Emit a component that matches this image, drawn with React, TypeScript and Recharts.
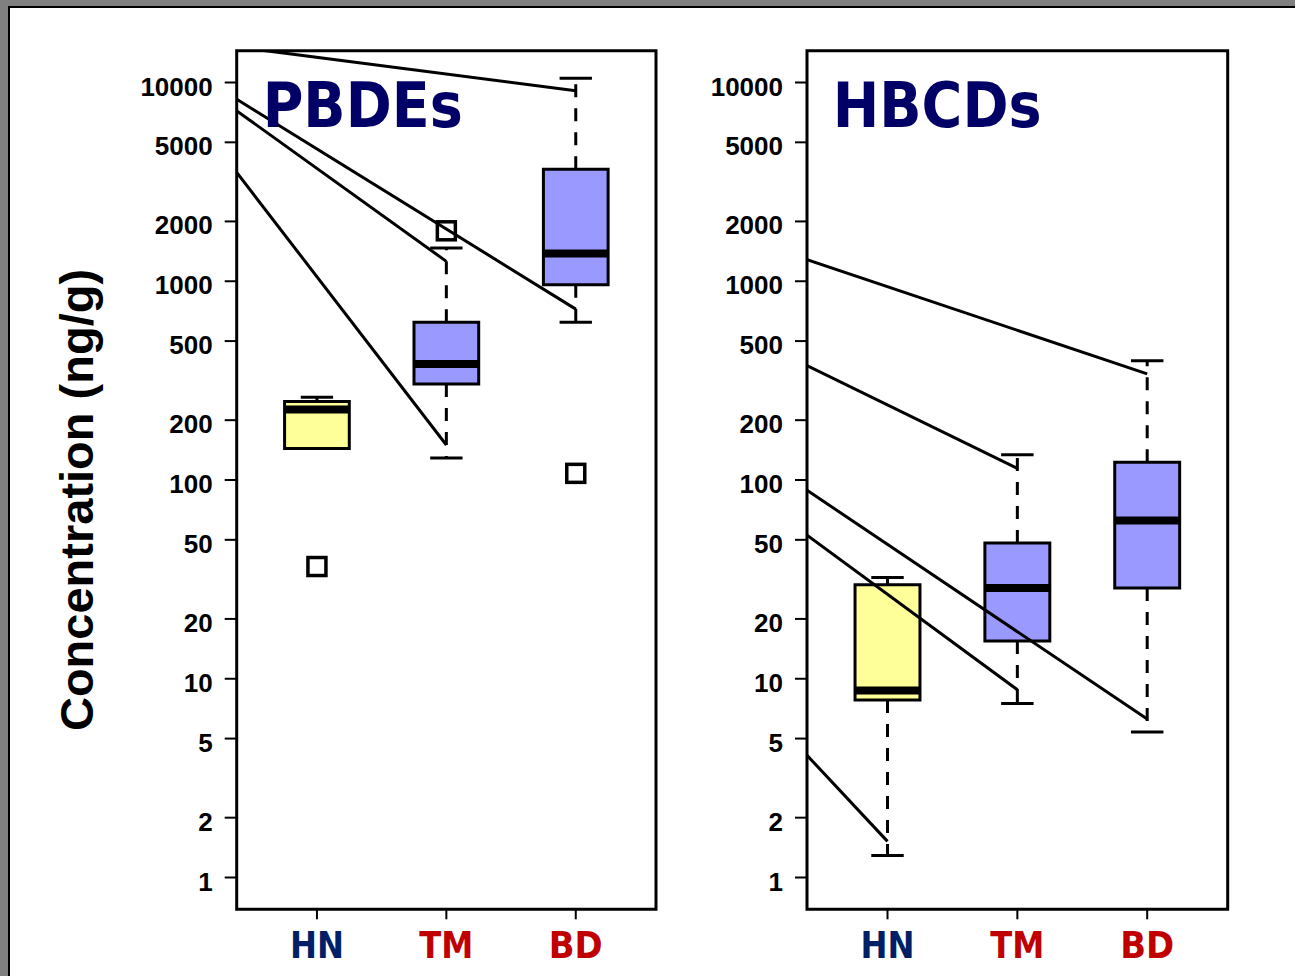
import React from 'react';
import {
  ComposedChart,
  XAxis,
  YAxis,
  Scatter,
  ReferenceArea,
  ReferenceLine,
} from 'recharts';

// ---------- data ----------
const categories = ['HN', 'TM', 'BD'];
const categoryPositions = [1, 2, 3];
const yTicks = [1, 2, 5, 10, 20, 50, 100, 200, 500, 1000, 2000, 5000, 10000];

// PBDEs box statistics (ng/g)
const pbdeLowerWhisker = [144, 129, 621];
const pbdeQ1 = [144, 304, 959];
const pbdeMedian = [226, 383, 1380];
const pbdeQ3 = [248, 621, 3664];
const pbdeUpperWhisker = [261, 1468, 10510];
const pbdeOutliers = [
  { x: 1, y: 36.7 },
  { x: 2, y: 1794 },
  { x: 3, y: 108 },
];
// connector lines: value at the left edge -> (category position, value)
const pbdeLineStart = [15100, 8240, 7200, 3527];
const pbdeLineEndCat = [3, 3, 2, 2];
const pbdeLineEnd = [9078, 724, 1259, 150];

// HBCDs box statistics (ng/g)
const hbcdLowerWhisker = [1.29, 7.51, 5.39];
const hbcdQ1 = [7.81, 15.5, 28.6];
const hbcdMedian = [8.72, 28.6, 62.5];
const hbcdQ3 = [29.7, 48.2, 123];
const hbcdUpperWhisker = [32.3, 134, 398];
const hbcdOutliers: { x: number; y: number }[] = [];
const hbcdLineStart = [1284, 376, 88.8, 52.8, 4.12];
const hbcdLineEndCat = [3, 2, 3, 2, 1];
const hbcdLineEnd = [342, 114.5, 6.28, 8.81, 1.52];

// ---------- layout/style ----------
const X_DOMAIN: [number, number] = [0.38, 3.62];
const Y_DOMAIN: [number, number] = [Math.pow(10, -0.16), Math.pow(10, 4.16)];
const BOX_HALF = 0.25;
const CAP_HALF = 0.125;
const catColors = ['#001f66', '#c00000', '#c00000'];
const boxColors = ['#ffff99', '#9999ff', '#9999ff'];
const NUM_FONT = '"Liberation Sans", Arial, sans-serif';
const TITLE_FONT = '"DejaVu Sans", Verdana, sans-serif';

const YTick = (props: any) => {
  const { x, y, payload } = props;
  return (
    <text
      x={x}
      y={y + 13}
      textAnchor="end"
      fontFamily={NUM_FONT}
      fontWeight="bold"
      fontSize={26}
      fill="#000"
    >
      {payload.value}
    </text>
  );
};

const XTick = (props: any) => {
  const { x, y, payload } = props;
  const i = categoryPositions.indexOf(payload.value);
  const label = categories[i] ?? '';
  return (
    <text
      x={x}
      y={y + 39}
      textAnchor="middle"
      fontFamily={TITLE_FONT}
      fontWeight="bold"
      fontSize={37}
      fill={catColors[i] ?? '#000'}
      textLength={54}
      lengthAdjust="spacingAndGlyphs"
    >
      {label}
    </text>
  );
};

const OutlierShape = (props: any) => {
  const { cx, cy } = props;
  if (cx == null || cy == null) return null;
  return (
    <rect
      x={cx - 9}
      y={cy - 9}
      width={18}
      height={18}
      fill="none"
      stroke="#000"
      strokeWidth={3.5}
    />
  );
};

type PanelProps = {
  left: number;
  yAxisWidth: number;
  rightMargin: number;
  lower: number[];
  q1: number[];
  median: number[];
  q3: number[];
  upper: number[];
  outliers: { x: number; y: number }[];
  lineStart: number[];
  lineEndCat: number[];
  lineEnd: number[];
};

const Panel = (p: PanelProps) => {
  const W = 680;
  const H = 976;
  return (
    <div style={{ position: 'absolute', left: p.left, top: 0, width: W, height: H }}>
      <ComposedChart
        width={W}
        height={H}
        data={p.outliers}
        margin={{ top: 50.7, left: 0, right: p.rightMargin, bottom: 6.7 }}
      >
        <XAxis
          type="number"
          dataKey="x"
          domain={X_DOMAIN}
          allowDataOverflow
          ticks={categoryPositions}
          tick={<XTick />}
          tickSize={10}
          tickMargin={0}
          height={60}
          axisLine={false}
          tickLine={{ stroke: '#000', strokeWidth: 2 }}
        />
        <YAxis
          type="number"
          dataKey="y"
          scale="log"
          domain={Y_DOMAIN}
          allowDataOverflow
          ticks={yTicks}
          tick={<YTick />}
          tickSize={12}
          tickMargin={12}
          width={p.yAxisWidth}
          axisLine={false}
          tickLine={{ stroke: '#000', strokeWidth: 2 }}
          interval={0}
        />
        {/* whiskers (dashed) */}
        {categoryPositions.map((c, i) =>
          p.upper[i] > p.q3[i] ? (
            <ReferenceLine
              key={`uw${i}`}
              segment={[
                { x: c, y: p.q3[i] },
                { x: c, y: p.upper[i] },
              ]}
              stroke="#000"
              strokeWidth={3}
              strokeDasharray="13 11"
              ifOverflow="visible"
            />
          ) : null
        )}
        {categoryPositions.map((c, i) =>
          p.lower[i] < p.q1[i] ? (
            <ReferenceLine
              key={`lw${i}`}
              segment={[
                { x: c, y: p.q1[i] },
                { x: c, y: p.lower[i] },
              ]}
              stroke="#000"
              strokeWidth={3}
              strokeDasharray="13 11"
              ifOverflow="visible"
            />
          ) : null
        )}
        {/* caps */}
        {categoryPositions.map((c, i) => (
          <ReferenceLine
            key={`uc${i}`}
            segment={[
              { x: c - CAP_HALF, y: p.upper[i] },
              { x: c + CAP_HALF, y: p.upper[i] },
            ]}
            stroke="#000"
            strokeWidth={3}
            ifOverflow="visible"
          />
        ))}
        {categoryPositions.map((c, i) => (
          <ReferenceLine
            key={`lc${i}`}
            segment={[
              { x: c - CAP_HALF, y: p.lower[i] },
              { x: c + CAP_HALF, y: p.lower[i] },
            ]}
            stroke="#000"
            strokeWidth={3}
            ifOverflow="visible"
          />
        ))}
        {/* boxes */}
        {categoryPositions.map((c, i) => (
          <ReferenceArea
            key={`box${i}`}
            x1={c - BOX_HALF}
            x2={c + BOX_HALF}
            y1={p.q1[i]}
            y2={p.q3[i]}
            fill={boxColors[i]}
            fillOpacity={1}
            stroke="#000"
            strokeWidth={3}
            ifOverflow="visible"
          />
        ))}
        {/* medians */}
        {categoryPositions.map((c, i) => (
          <ReferenceLine
            key={`med${i}`}
            segment={[
              { x: c - BOX_HALF, y: p.median[i] },
              { x: c + BOX_HALF, y: p.median[i] },
            ]}
            stroke="#000"
            strokeWidth={8}
            ifOverflow="visible"
          />
        ))}
        {/* connector lines */}
        {p.lineStart.map((v, i) => (
          <ReferenceLine
            key={`ln${i}`}
            segment={[
              { x: X_DOMAIN[0], y: v },
              { x: p.lineEndCat[i], y: p.lineEnd[i] },
            ]}
            stroke="#000"
            strokeWidth={3}
            ifOverflow="hidden"
          />
        ))}
        <Scatter
          data={p.outliers}
          dataKey="y"
          shape={<OutlierShape />}
          isAnimationActive={false}
        />
        {/* plot frame */}
        <ReferenceArea
          x1={X_DOMAIN[0]}
          x2={X_DOMAIN[1]}
          y1={Y_DOMAIN[0]}
          y2={Y_DOMAIN[1]}
          fill="none"
          stroke="#000"
          strokeWidth={3}
          ifOverflow="visible"
        />
      </ComposedChart>
    </div>
  );
};

export default function App() {
  return (
    <div
      style={{
        position: 'absolute',
        left: 0,
        top: 0,
        width: 1295,
        height: 976,
        background: '#fff',
        overflow: 'hidden',
      }}
    >
      <Panel
        left={0}
        yAxisWidth={236.7}
        rightMargin={24}
        lower={pbdeLowerWhisker}
        q1={pbdeQ1}
        median={pbdeMedian}
        q3={pbdeQ3}
        upper={pbdeUpperWhisker}
        outliers={pbdeOutliers}
        lineStart={pbdeLineStart}
        lineEndCat={pbdeLineEndCat}
        lineEnd={pbdeLineEnd}
      />
      <Panel
        left={570}
        yAxisWidth={237}
        rightMargin={22.3}
        lower={hbcdLowerWhisker}
        q1={hbcdQ1}
        median={hbcdMedian}
        q3={hbcdQ3}
        upper={hbcdUpperWhisker}
        outliers={hbcdOutliers}
        lineStart={hbcdLineStart}
        lineEndCat={hbcdLineEndCat}
        lineEnd={hbcdLineEnd}
      />
      <svg
        width={1295}
        height={976}
        style={{ position: 'absolute', left: 0, top: 0, pointerEvents: 'none' }}
      >
        <text
          x={262.7}
          y={126.7}
          fontFamily={TITLE_FONT}
          fontWeight="bold"
          fontSize={62}
          fill="#000066"
          textLength={200}
          lengthAdjust="spacingAndGlyphs"
        >
          PBDEs
        </text>
        <text
          x={832.7}
          y={126.7}
          fontFamily={TITLE_FONT}
          fontWeight="bold"
          fontSize={62}
          fill="#000066"
          textLength={209}
          lengthAdjust="spacingAndGlyphs"
        >
          HBCDs
        </text>
        <text
          transform="translate(93,500) rotate(-90)"
          textAnchor="middle"
          fontFamily={NUM_FONT}
          fontWeight="bold"
          fontSize={47}
          fill="#000"
        >
          Concentration (ng/g)
        </text>
      </svg>
      {/* slide frame */}
      <div style={{ position: 'absolute', left: 0, top: 0, width: 1295, height: 6, background: '#808080' }} />
      <div style={{ position: 'absolute', left: 8, top: 6, width: 1287, height: 2.3, background: '#000' }} />
      <div style={{ position: 'absolute', left: 0, top: 0, width: 8, height: 976, background: '#808080' }} />
      <div style={{ position: 'absolute', left: 8, top: 6, width: 2.3, height: 970, background: '#000' }} />
    </div>
  );
}
